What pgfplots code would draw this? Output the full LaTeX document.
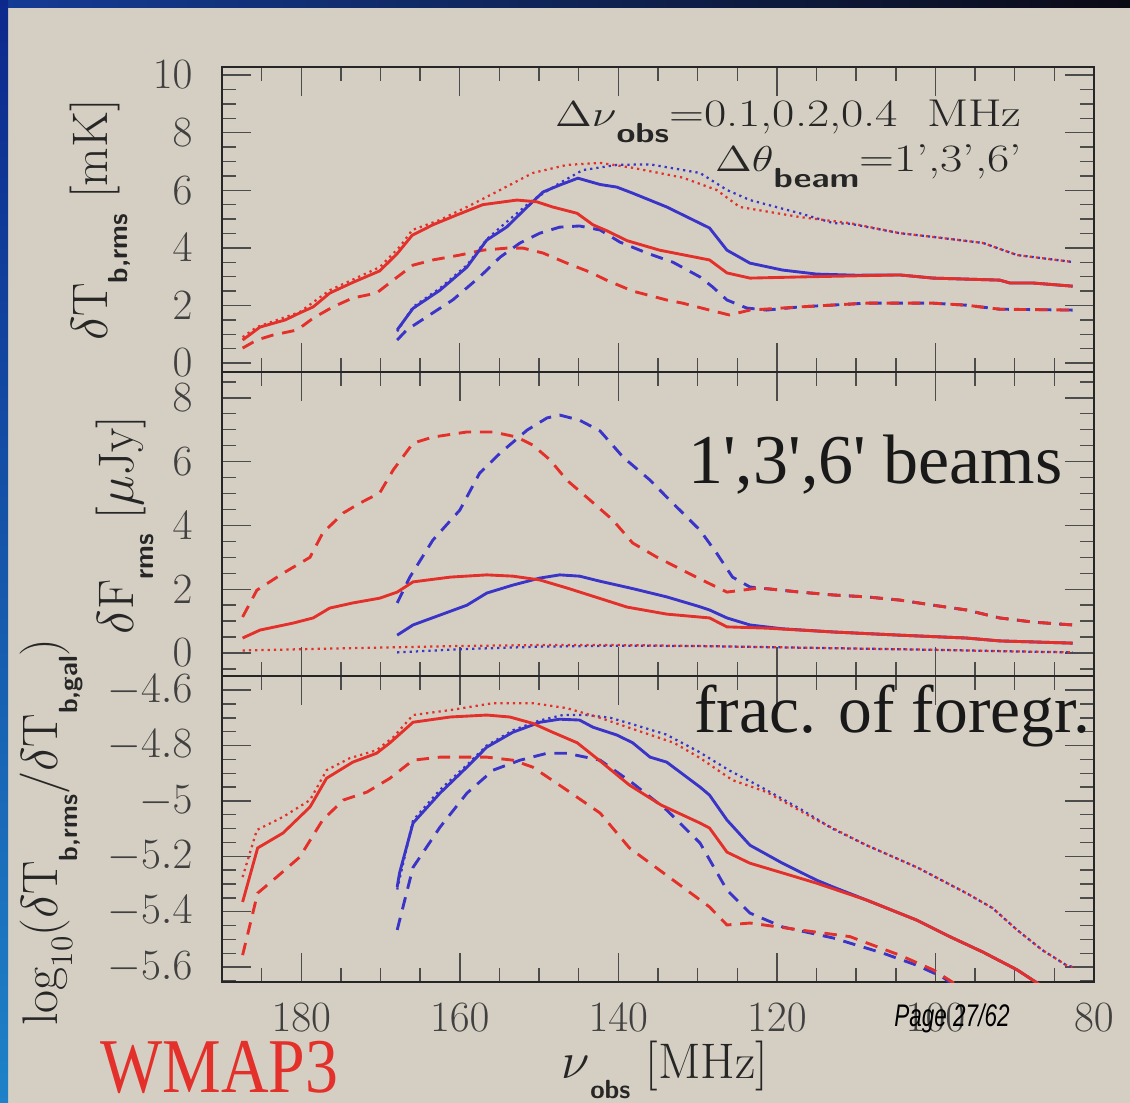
\documentclass[border=0pt]{standalone}
\usepackage{pgfplots}
\pgfplotsset{compat=1.18}
\usepackage{fontspec}
\usepackage{graphicx}
\newfontfamily\timesf{Liberation Serif}
\newfontfamily\arialf{Liberation Sans}
\definecolor{bg}{RGB}{213,207,195}
\definecolor{cred}{RGB}{228,48,42}
\definecolor{cblue}{RGB}{58,52,200}
\definecolor{slideA}{RGB}{20,60,150}
\definecolor{slideB}{RGB}{10,10,20}
\definecolor{slideC}{RGB}{12,40,140}
\definecolor{slideD}{RGB}{30,130,200}
\newcommand{\subsf}[2][11]{\raisebox{-0.4em}{\fontsize{#1}{#1}\selectfont\sffamily\bfseries #2}}
\pgfplotsset{
 panel/.style={scale only axis, width=348.8pt, x dir=reverse, xmin=80, xmax=190,
  xtick={80,100,120,140,160,180},
  minor xtick={85,90,95,105,110,115,125,130,135,145,150,155,165,170,175,185},
  major tick length=11.5pt, minor tick length=5.5pt,
  every tick/.style={line width=0.55pt, black!70},
  axis line style={line width=0.9pt, black!85},
  tick label style={font=\fontsize{17.5}{21}\selectfont, black!75, inner sep=0.5pt},
  yticklabel style={xshift=-11.1pt},
  xticklabel style={yshift=-7.9pt},
  anchor=north west,
 },
 rs/.style={cred, line width=1.15pt},
 bs/.style={cblue, line width=1.15pt},
 rd/.style={cred, line width=1.15pt, dash pattern=on 5pt off 3.5pt},
 bd/.style={cblue, line width=1.15pt, dash pattern=on 5pt off 3.5pt},
 rt/.style={cred, line width=0.9pt, dash pattern=on 0.9pt off 1.6pt},
 bt/.style={cblue, line width=0.9pt, dash pattern=on 0.9pt off 1.6pt},
}
\begin{document}
\begin{tikzpicture}
\fill[bg] (0,0) rectangle (452pt,-441.2pt);
\shade[left color=slideA, right color=slideB] (0,0) rectangle (452pt,-3.2pt);
\shade[top color=slideC, bottom color=slideD] (0,0) rectangle (3.2pt,-441.2pt);

% ---------- top panel ----------
\begin{axis}[panel, at={(88.8pt,-26.8pt)}, height=122pt,
  ymin=-0.31, ymax=10.28, ytick={0,2,4,6,8,10},
  minor ytick={0.5,1,1.5,2.5,3,3.5,4.5,5,5.5,6.5,7,7.5,8.5,9,9.5},
  xticklabels={}]
\addplot[bt] coordinates {(167.9,1.1) (165.9,1.95) (162.5,2.6) (159.1,3.4) (156.6,4.3) (154.1,4.9) (151.5,5.5) (150.8,5.66) (147.4,6.25) (144.5,6.7) (140.2,6.88) (136.0,6.9) (129.7,6.6) (126.3,6.01) (123.4,5.66) (117.1,5.2) (112.9,4.86) (110.8,4.84) (104.5,4.51) (100.3,4.38) (94.0,4.17) (89.7,3.75) (82.7,3.51)};
\addplot[rt] coordinates {(187.4,0.9) (185.6,1.25) (180.2,1.77) (176.4,2.53) (170.1,3.33) (167.6,4.03) (166.0,4.62) (162.5,4.97) (159.1,5.42) (154.9,6.01) (150.8,6.6) (146.5,6.88) (142.3,6.95) (138.2,6.78) (131.9,6.44) (127.6,6.01) (124.7,5.42) (117.1,5.07) (110.8,4.86) (104.5,4.51) (100.3,4.38) (94.0,4.17) (89.7,3.75) (82.7,3.51)};
\addplot[bd] coordinates {(167.9,0.8) (166.7,1.15) (164.2,1.6) (160.9,2.19) (157.5,2.99) (154.9,3.68) (152.4,4.17) (149.9,4.51) (147.4,4.72) (144.9,4.76) (142.3,4.62) (139.8,4.2) (136.4,3.82) (133.1,3.5) (129.7,2.99) (128.1,2.64) (126.3,2.19) (123.8,1.91) (121.3,1.84) (117.1,1.95) (108.7,2.08) (100.3,2.08) (96.1,2.01) (91.9,1.87) (82.7,1.84)};
\addplot[rd] coordinates {(187.4,0.52) (185.6,0.8) (183.6,0.97) (180.5,1.15) (178.5,1.56) (176.0,1.95) (173.5,2.26) (170.5,2.43) (168.4,2.88) (165.9,3.4) (163.4,3.58) (160.0,3.75) (157.1,3.92) (154.1,3.99) (152.0,3.99) (149.5,3.82) (146.5,3.47) (143.6,3.16) (141.5,2.88) (138.2,2.5) (133.9,2.19) (131.9,2.08) (128.5,1.84) (126.0,1.67) (123.4,1.84) (117.1,1.95) (108.7,2.08) (100.3,2.08) (96.1,2.01) (91.9,1.87) (82.7,1.84)};
\addplot[bs] coordinates {(167.9,1.15) (165.9,1.9) (162.5,2.53) (159.1,3.33) (156.6,4.27) (154.1,4.72) (151.5,5.42) (149.5,5.94) (147.4,6.18) (145.1,6.42) (142.3,6.2) (140.2,6.11) (138.2,5.9) (133.9,5.42) (128.5,4.69) (126.3,3.92) (123.4,3.47) (119.3,3.23) (115.0,3.09) (110,3.05) (104.5,3.06) (100.3,2.95) (91.9,2.88) (90.6,2.78) (87.7,2.78) (82.7,2.67)};
\addplot[rs] coordinates {(187.4,0.8) (185.2,1.25) (182,1.5) (180.2,1.74) (178.5,1.95) (176.4,2.43) (173.5,2.8) (170.1,3.2) (167.9,3.8) (166.0,4.44) (163.4,4.8) (160.4,5.14) (157.1,5.5) (152.8,5.66) (150.3,5.6) (148.3,5.42) (145.2,5.2) (143.2,4.8) (141.5,4.6) (138.9,4.25) (134.8,3.92) (128.5,3.58) (126.3,3.13) (123.4,2.95) (117.1,2.99) (104.5,3.06) (100.3,2.95) (91.9,2.88) (90.6,2.78) (87.7,2.78) (82.7,2.67)};
\end{axis}

% ---------- middle panel ----------
\begin{axis}[panel, at={(88.8pt,-148.8pt)}, height=121.6pt,
  ymin=-0.72, ymax=8.81, ytick={0,2,4,6,8},
  minor ytick={-0.5,0.5,1,1.5,2.5,3,3.5,4.5,5,5.5,6.5,7,7.5,8.5},
  xticklabels={}]
\addplot[bt] coordinates {(167.9,0.02) (160,0.12) (150,0.2) (140,0.23) (130,0.22) (120,0.18) (110,0.14) (100,0.1) (90,0.05) (82.7,0.02)};
\addplot[rt] coordinates {(187.4,0.08) (178,0.13) (170,0.17) (160,0.22) (150,0.25) (140,0.25) (130,0.22) (120,0.18) (110,0.14) (100,0.1) (90,0.05) (82.7,0.02)};
\addplot[bd] coordinates {(167.9,1.57) (166.3,2.38) (163.4,3.54) (160.0,4.48) (157.5,5.64) (154.9,6.27) (151.5,6.99) (149.0,7.37) (147.4,7.46) (144.9,7.3) (142.3,6.96) (139.4,6.14) (136.0,5.42) (133.9,4.89) (129.7,3.85) (127.6,3.13) (125.6,2.38) (123.4,2.07) (122.2,2.04) (117.1,1.91) (112.9,1.82) (108.7,1.76) (104.5,1.66) (100.3,1.5) (96.1,1.35) (91.9,1.1) (87.7,0.97) (82.7,0.88)};
\addplot[rd] coordinates {(187.4,1.13) (185.6,1.97) (182.3,2.5) (178.9,3.0) (177.3,3.76) (174.7,4.39) (172.6,4.7) (170.1,5.02) (168.4,5.74) (165.9,6.58) (163.4,6.77) (159.1,6.93) (155.8,6.93) (152.8,6.77) (150.8,6.52) (148.6,6.05) (146.5,5.42) (143.6,4.8) (140.7,4.17) (138.2,3.45) (135.1,3.0) (133.9,2.85) (129.7,2.32) (126.3,1.91) (122.2,2.04) (117.1,1.91) (112.9,1.82) (108.7,1.76) (104.5,1.66) (100.3,1.5) (96.1,1.35) (91.9,1.1) (87.7,0.97) (82.7,0.88)};
\addplot[bs] coordinates {(167.9,0.56) (165.9,0.88) (162.5,1.19) (159.1,1.5) (156.6,1.88) (153.3,2.13) (149.9,2.35) (147.4,2.45) (144.9,2.41) (142.3,2.25) (138.2,2.02) (133.9,1.76) (129.7,1.45) (128.5,1.35) (126.3,1.1) (123.4,0.88) (119.3,0.76) (112.9,0.66) (104.5,0.56) (96.1,0.47) (91.9,0.38) (82.7,0.31)};
\addplot[rs] coordinates {(187.4,0.47) (185.2,0.72) (181.0,0.94) (178.5,1.1) (176.4,1.41) (173.5,1.57) (170.1,1.72) (167.9,1.91) (165.9,2.23) (161.2,2.38) (156.6,2.45) (153.3,2.41) (149.9,2.29) (146.5,2.04) (143.2,1.78) (138.9,1.44) (133.9,1.22) (128.5,1.1) (126.3,0.82) (121.3,0.78) (112.9,0.66) (104.5,0.56) (96.1,0.47) (91.9,0.38) (82.7,0.31)};
\end{axis}

% ---------- bottom panel ----------
\begin{axis}[panel, at={(88.8pt,-270.4pt)}, height=122.4pt,
  ymin=-5.654, ymax=-4.549, ytick={-5.6,-5.4,-5.2,-5,-4.8,-4.6},
  minor ytick={-5.65,-5.55,-5.5,-5.45,-5.35,-5.3,-5.25,-5.15,-5.1,-5.05,-4.95,-4.9,-4.85,-4.75,-4.7,-4.65,-4.55}]
\addplot[bt] coordinates {(167.9,-5.32) (165.9,-5.07) (162.5,-4.96) (159.1,-4.87) (156.6,-4.80) (153.3,-4.745) (150,-4.71) (147,-4.69) (144,-4.69) (141,-4.70) (138,-4.725) (134,-4.76) (130,-4.82) (126,-4.89) (122,-4.95) (117,-5.03) (113,-5.10) (108.7,-5.16) (102.4,-5.239) (96.1,-5.333) (92.8,-5.387) (89.7,-5.466) (86.5,-5.539) (83.5,-5.593) (82.7,-5.6)};
\addplot[rt] coordinates {(187.4,-5.275) (185.6,-5.105) (182.3,-5.058) (178.9,-4.997) (176.8,-4.889) (173.9,-4.846) (170.5,-4.817) (168.4,-4.77) (165.9,-4.69) (161.2,-4.672) (155.8,-4.647) (150.8,-4.647) (146.5,-4.665) (142.3,-4.70) (138.2,-4.74) (133,-4.79) (129.7,-4.845) (125.6,-4.925) (121.3,-4.968) (115.0,-5.069) (108.7,-5.16) (102.4,-5.239) (96.1,-5.333) (92.8,-5.387) (89.7,-5.466) (86.5,-5.539) (83.5,-5.593) (82.7,-5.6)};
\addplot[bd] coordinates {(167.9,-5.466) (165.9,-5.24) (162.5,-5.095) (159.1,-4.972) (155.8,-4.889) (152.4,-4.853) (149.0,-4.828) (146.5,-4.828) (142.3,-4.853) (138.2,-4.936) (133.9,-5.033) (129.7,-5.152) (126.3,-5.322) (123.4,-5.405) (119.3,-5.455) (112.9,-5.495) (106.6,-5.55) (102.4,-5.593) (99.1,-5.636) (97.5,-5.67)};
\addplot[rd] coordinates {(187.4,-5.557) (185.5,-5.333) (183.1,-5.275) (180.2,-5.203) (177.3,-5.069) (174.7,-4.997) (171.7,-4.968) (168.8,-4.918) (165.9,-4.853) (162.5,-4.842) (156.6,-4.842) (153.3,-4.853) (150.8,-4.878) (146.5,-4.961) (142.3,-5.044) (138.6,-5.17) (134.8,-5.25) (131.9,-5.311) (128.5,-5.383) (126.3,-5.448) (123.4,-5.441) (117.1,-5.466) (110.8,-5.49) (104.5,-5.557) (100.3,-5.61) (97.0,-5.67)};
\addplot[bs] coordinates {(167.9,-5.311) (167.6,-5.26) (165.9,-5.08) (162.5,-4.972) (159.1,-4.878) (156.6,-4.806) (153.3,-4.752) (149.9,-4.716) (147.4,-4.705) (144.9,-4.708) (143.2,-4.734) (140.2,-4.762) (138.2,-4.79) (136.0,-4.842) (133.9,-4.86) (129.7,-4.95) (128.5,-4.979) (126.3,-5.069) (123.4,-5.16) (119.3,-5.225) (115.0,-5.286) (112.9,-5.311) (108.7,-5.358) (102.4,-5.43) (98.2,-5.49) (94.0,-5.546) (89.7,-5.61) (86.5,-5.67)};
\addplot[rs] coordinates {(187.4,-5.365) (185.5,-5.17) (182.3,-5.116) (178.9,-5.022) (176.8,-4.918) (173.5,-4.86) (170.5,-4.828) (168.8,-4.79) (165.9,-4.716) (161.2,-4.697) (156.6,-4.69) (153.7,-4.697) (150.8,-4.72) (148.3,-4.752) (145.2,-4.79) (142.3,-4.856) (138.6,-4.943) (134.6,-5.015) (129.7,-5.08) (128.5,-5.098) (126.3,-5.185) (123.4,-5.225) (119.3,-5.26) (115.0,-5.297) (108.7,-5.358) (102.4,-5.43) (98.2,-5.49) (94.0,-5.546) (89.7,-5.61) (86.5,-5.67)};
\end{axis}

% ---------- labels and annotations ----------
\node[rotate=90, anchor=base, inner sep=0, black!85] at (42.8pt,-88pt)
  {\fontsize{20}{24}\selectfont $\delta$T\subsf{b,rms}\ [mK]};
\node[rotate=90, anchor=base, inner sep=0, black!85] at (53.2pt,-210pt)
  {\fontsize{20}{24}\selectfont $\delta$F\subsf{rms}\ [$\mu$Jy]};
\node[rotate=90, anchor=base, inner sep=0, black!85] at (22.8pt,-332.8pt)
  {\fontsize{20}{24}\selectfont log\raisebox{-0.3em}{\fontsize{12.5}{12.5}\selectfont 10}($\delta$T\subsf[10.5]{b,rms}/$\delta$T\subsf[10.5]{b,gal})};
\node[anchor=base, inner sep=0, black!85] at (266pt,-431.5pt)
  {\fontsize{20}{24}\selectfont $\nu$\subsf[10.5]{obs}\ [MHz]};

\node[anchor=base east, inner sep=0, black!85] at (408.8pt,-50.8pt)
  {\scalebox{1.25}[1]{\fontsize{15.5}{18}\selectfont $\Delta\nu$\subsf{obs}=0.1,0.2,0.4\hspace{0.6em}MHz}};
\node[anchor=base east, inner sep=0, black!85] at (408.8pt,-68.8pt)
  {\scalebox{1.25}[1]{\fontsize{15.5}{18}\selectfont $\Delta\theta$\subsf{beam}=1',3',6'}};

\node[anchor=base east, inner sep=0, black!90] at (425.2pt,-193.2pt)
  {\fontsize{28}{32}\selectfont\timesf 1\char"27,3\char"27,6\char"27{} beams};
\node[anchor=base west, inner sep=0, black!90] at (277.6pt,-292.8pt)
  {\fontsize{27}{31}\selectfont\timesf frac. of foregr.};

\node[anchor=base west, inner sep=0, cred] at (40pt,-437pt)
  {\scalebox{0.85}[1]{\fontsize{31}{34}\selectfont\timesf WMAP3}};
\node[inner sep=0, black] at (380.8pt,-407.2pt)
  {\scalebox{0.72}[1]{\fontsize{12.5}{14}\selectfont\arialf\itshape Page 27/62}};

\pgfresetboundingbox
\useasboundingbox (0,0) rectangle (452pt,-441.2pt);
\end{tikzpicture}
\end{document}
